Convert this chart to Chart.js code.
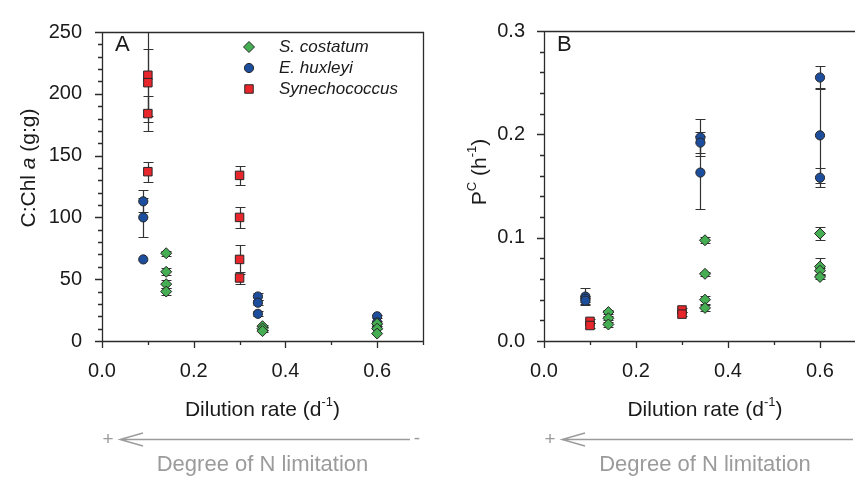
<!DOCTYPE html>
<html>
<head>
<meta charset="utf-8">
<script src="https://cdn.jsdelivr.net/npm/chart.js@4.4.1/dist/chart.umd.min.js"></script>
<style>
  html, body { margin: 0; padding: 0; background: #fff; }
  #wrap { position: relative; width: 855px; height: 480px; overflow: hidden; }
  canvas { position: absolute; top: 0; }
  #chartA { left: 0; }
  #chartB { left: 440px; }
</style>
</head>
<body>
<div id="wrap">
  <canvas id="chartA" width="440" height="480"></canvas>
  <canvas id="chartB" width="440" height="480"></canvas>
</div>
<script>
// ---- data, panel A: C:Chl a (g:g) vs dilution rate (d-1) ----
const costatumX_A = [0.14, 0.14, 0.14, 0.14, 0.35, 0.35, 0.35, 0.6, 0.6, 0.6]
const costatumY_A = [71, 56, 46, 40, 12, 10, 8, 14, 10, 6]
const costatumE_A = [2, 3, 3, 3, 1, 1, 1, 0, 0, 0]

const huxleyiX_A = [0.09, 0.09, 0.09, 0.34, 0.34, 0.34, 0.6, 0.6, 0.6]
const huxleyiY_A = [113, 100, 66, 36, 31, 22, 20, 15, 11]
const huxleyiE_A = [9, 16, 0, 3, 2, 2, 1, 1, 1]

const synechoX_A = [0.1, 0.1, 0.1, 0.1, 0.3, 0.3, 0.3, 0.3]
const synechoY_A = [215, 209, 184, 137, 134, 100, 66, 51]
const synechoE_A = [38, 27, 14, 8, 7.5, 8.5, 12, 5]

// ---- data, panel B: PC (h-1) vs dilution rate (d-1) ----
const costatumX_B = [0.14, 0.14, 0.14, 0.35, 0.35, 0.35, 0.35, 0.6, 0.6, 0.6, 0.6]
const costatumY_B = [0.028, 0.022, 0.016, 0.0975, 0.065, 0.040, 0.032, 0.104, 0.072, 0.068, 0.062]
const costatumE_B = [0.002, 0.002, 0.002, 0.003, 0.002, 0.004, 0.003, 0.006, 0.008, 0.003, 0.002]

const huxleyiX_B = [0.09, 0.09, 0.09, 0.34, 0.34, 0.34, 0.6, 0.6, 0.6]
const huxleyiY_B = [0.043, 0.041, 0.039, 0.197, 0.192, 0.163, 0.255, 0.199, 0.158]
const huxleyiE_B = [0.008, 0.003, 0.003, 0.018, 0.010, 0.035, 0.011, 0.046, 0.009]

const synechoX_B = [0.1, 0.1, 0.3, 0.3]
const synechoY_B = [0.019, 0.015, 0.030, 0.026]
const synechoE_B = [0.002, 0.002, 0.002, 0.002]

const xTicks = [0.0, 0.2, 0.4, 0.6]
const speciesNames = ['S. costatum', 'E. huxleyi', 'Synechococcus']

const FONT = '"Liberation Sans", Arial, Helvetica, sans-serif'
const INK = '#1a1a1a'
const AXIS = '#2b2b2b'
const GREY = '#9b9b9b'
const FILLS = ['#45ad52', '#1d4e9d', '#e8262b']
const SHAPES = ['rectRot', 'circle', 'rect']
const RADII = [5.5, 4.6, 6]

Chart.defaults.font.family = FONT

function series(i, xs, ys, errs) {
  return {
    label: speciesNames[i],
    data: xs.map((x, k) => ({ x: x, y: ys[k] })),
    errors: errs,
    pointStyle: SHAPES[i],
    pointRadius: RADII[i],
    backgroundColor: FILLS[i],
    borderColor: '#262626',
    borderWidth: 1,
    clip: false
  }
}

function drawMarker(ctx, i, x, y) {
  const r = RADII[i]
  ctx.beginPath()
  if (SHAPES[i] === 'circle') ctx.arc(x, y, r, 0, Math.PI * 2)
  else if (SHAPES[i] === 'rect') { const s = r * Math.SQRT1_2; ctx.rect(x - s, y - s, 2 * s, 2 * s) }
  else { ctx.moveTo(x - r, y); ctx.lineTo(x, y - r); ctx.lineTo(x + r, y); ctx.lineTo(x, y + r); ctx.closePath() }
  ctx.fillStyle = FILLS[i]
  ctx.fill()
  ctx.lineWidth = 1
  ctx.strokeStyle = '#262626'
  ctx.stroke()
}

// text with superscript / italic pieces, centred on (cx, cy)
function richText(ctx, parts, cx, cy, size, rotate) {
  const fontOf = p => (p.it ? 'italic ' : '') + (p.sup ? Math.round(size * 0.62) : size) + 'px ' + FONT
  const widths = parts.map(p => { ctx.font = fontOf(p); return ctx.measureText(p.t).width })
  const total = widths.reduce((s, w) => s + w, 0)
  ctx.save()
  ctx.translate(cx, cy)
  if (rotate) ctx.rotate(-Math.PI / 2)
  ctx.fillStyle = INK
  ctx.textAlign = 'left'
  ctx.textBaseline = 'alphabetic'
  let x = -total / 2
  parts.forEach((p, k) => {
    ctx.font = fontOf(p)
    ctx.fillText(p.t, x, size * 0.36 - (p.sup ? size * 0.45 : 0))
    x += widths[k]
  })
  ctx.restore()
}

function tickMarks(ctx, scale, step, major, a, horizontal) {
  const n = Math.round((scale.max - scale.min) / step)
  for (let i = 0; i <= n; i++) {
    const v = scale.min + i * step
    const big = Math.abs(v / major - Math.round(v / major)) < 1e-6
    const len = big ? 7 : 4
    const p = Math.round(scale.getPixelForValue(v)) + 0.5
    if (horizontal) { ctx.moveTo(p, a.bottom); ctx.lineTo(p, a.bottom + len) }
    else { ctx.moveTo(a.left, p); ctx.lineTo(a.left - len, p) }
  }
}

const panelDecor = {
  id: 'panelDecor',
  beforeDatasetsDraw(chart) {
    // error bars, under the markers
    const { ctx, chartArea: a, scales: { x, y } } = chart
    ctx.save()
    ctx.beginPath()
    ctx.rect(a.left, a.top, a.right - a.left, a.bottom - a.top)
    ctx.clip()
    ctx.strokeStyle = '#333'
    ctx.lineWidth = 1.2
    chart.data.datasets.forEach(ds => {
      ds.data.forEach((pt, k) => {
        const e = ds.errors[k]
        if (!e) return
        const px = Math.round(x.getPixelForValue(pt.x)) + 0.5
        const top = Math.round(y.getPixelForValue(pt.y + e)) + 0.5
        const bot = Math.round(y.getPixelForValue(pt.y - e)) + 0.5
        ctx.beginPath()
        ctx.moveTo(px, top); ctx.lineTo(px, bot)
        ctx.moveTo(px - 5, top); ctx.lineTo(px + 5, top)
        ctx.moveTo(px - 5, bot); ctx.lineTo(px + 5, bot)
        ctx.stroke()
      })
    })
    ctx.restore()
  },
  afterDraw(chart, args, o) {
    const { ctx, chartArea: a, scales: { x, y } } = chart
    ctx.save()
    // frame + tick marks
    ctx.strokeStyle = AXIS
    ctx.lineWidth = 1.3
    ctx.beginPath()
    const L = Math.round(a.left) + 0.5, R = Math.round(a.right) + 0.5
    const T = Math.round(a.top) + 0.5, B = Math.round(a.bottom) + 0.5
    ctx.moveTo(L, T); ctx.lineTo(R, T); ctx.lineTo(R, B); ctx.lineTo(L, B); ctx.closePath()
    tickMarks(ctx, x, 0.1, 0.2, a, true)
    tickMarks(ctx, y, o.yMinor, o.yMajor, a, false)
    ctx.stroke()

    // panel letter
    ctx.fillStyle = INK
    ctx.font = '22px ' + FONT
    ctx.textAlign = 'left'
    ctx.textBaseline = 'middle'
    ctx.fillText(o.letter, a.left + 13, 45)

    // axis titles
    const mid = (a.left + a.right) / 2
    richText(ctx, [{ t: 'Dilution rate (d' }, { t: '-1', sup: true }, { t: ')' }], mid, 408, 21, false)
    richText(ctx, o.yTitle, o.yTitleX, o.yTitleY, 21, true)

    // N limitation arrow
    ctx.strokeStyle = GREY
    ctx.fillStyle = GREY
    ctx.lineWidth = 1.4
    const ay = 439.5
    const tip = a.left + 18
    ctx.beginPath()
    ctx.moveTo(a.right - 13, ay); ctx.lineTo(tip, ay)
    ctx.moveTo(tip + 23, ay - 6.5); ctx.lineTo(tip, ay); ctx.lineTo(tip + 23, ay + 6.5)
    ctx.stroke()
    ctx.font = '19px ' + FONT
    ctx.textAlign = 'center'
    ctx.textBaseline = 'middle'
    ctx.fillText('+', a.left + 6, ay)
    ctx.fillText('-', a.right - 6, ay - 1)
    ctx.font = '22px ' + FONT
    ctx.fillText('Degree of N limitation', mid, 465)

    // legend (panel A only)
    if (o.legend) {
      ctx.font = 'italic 17px ' + FONT
      ctx.textAlign = 'left'
      ctx.fillStyle = INK
      speciesNames.forEach((name, i) => {
        const ly = 47 + i * 21
        drawMarker(ctx, i, 249, ly)
        ctx.fillStyle = INK
        ctx.fillText(name, 279, ly)
      })
    }
    ctx.restore()
  }
}

function makeChart(id, datasets, yMax, yStep, yFmt, yWidth, yPad, rightPad, decor) {
  return new Chart(document.getElementById(id), {
    type: 'scatter',
    data: { datasets: datasets },
    options: {
      responsive: false,
      animation: false,
      events: [],
      layout: { padding: { left: 0, top: 23, right: rightPad, bottom: 0 } },
      plugins: { legend: { display: false }, tooltip: { enabled: false }, panelDecor: decor },
      scales: {
        x: {
          type: 'linear', min: 0, max: 0.7,
          grid: { display: false, drawTicks: false },
          border: { display: false },
          afterBuildTicks: s => { s.ticks = xTicks.map(v => ({ value: v })) },
          afterFit: s => { s.height = 139 },
          ticks: { padding: 18, color: INK, font: { size: 20 }, callback: v => v.toFixed(1) }
        },
        y: {
          type: 'linear', min: 0, max: yMax,
          grid: { display: false, drawTicks: false },
          border: { display: false },
          afterFit: s => { s.width = yWidth },
          ticks: { stepSize: yStep, padding: yPad, color: INK, font: { size: 20 }, callback: yFmt }
        }
      }
    },
    plugins: [panelDecor]
  })
}

makeChart('chartA', [
  series(0, costatumX_A, costatumY_A, costatumE_A),
  series(1, huxleyiX_A, huxleyiY_A, huxleyiE_A),
  series(2, synechoX_A, synechoY_A, synechoE_A)
], 250, 50, v => String(v), 102, 20, 17, {
  letter: 'A', legend: true, yMinor: 10, yMajor: 50,
  yTitle: [{ t: 'C:Chl ' }, { t: 'a', it: true }, { t: ' (g:g)' }], yTitleX: 27, yTitleY: 168
})

makeChart('chartB', [
  series(0, costatumX_B, costatumY_B, costatumE_B),
  series(1, huxleyiX_B, huxleyiY_B, huxleyiE_B),
  series(2, synechoX_B, synechoY_B, synechoE_B)
], 0.3, 0.1, v => v.toFixed(1), 104, 19, 14, {
  letter: 'B', legend: false, yMinor: 0.02, yMajor: 0.1,
  yTitle: [{ t: 'P' }, { t: 'C', sup: true }, { t: ' (h' }, { t: '-1', sup: true }, { t: ')' }], yTitleX: 38, yTitleY: 172
})
</script>
</body>
</html>
